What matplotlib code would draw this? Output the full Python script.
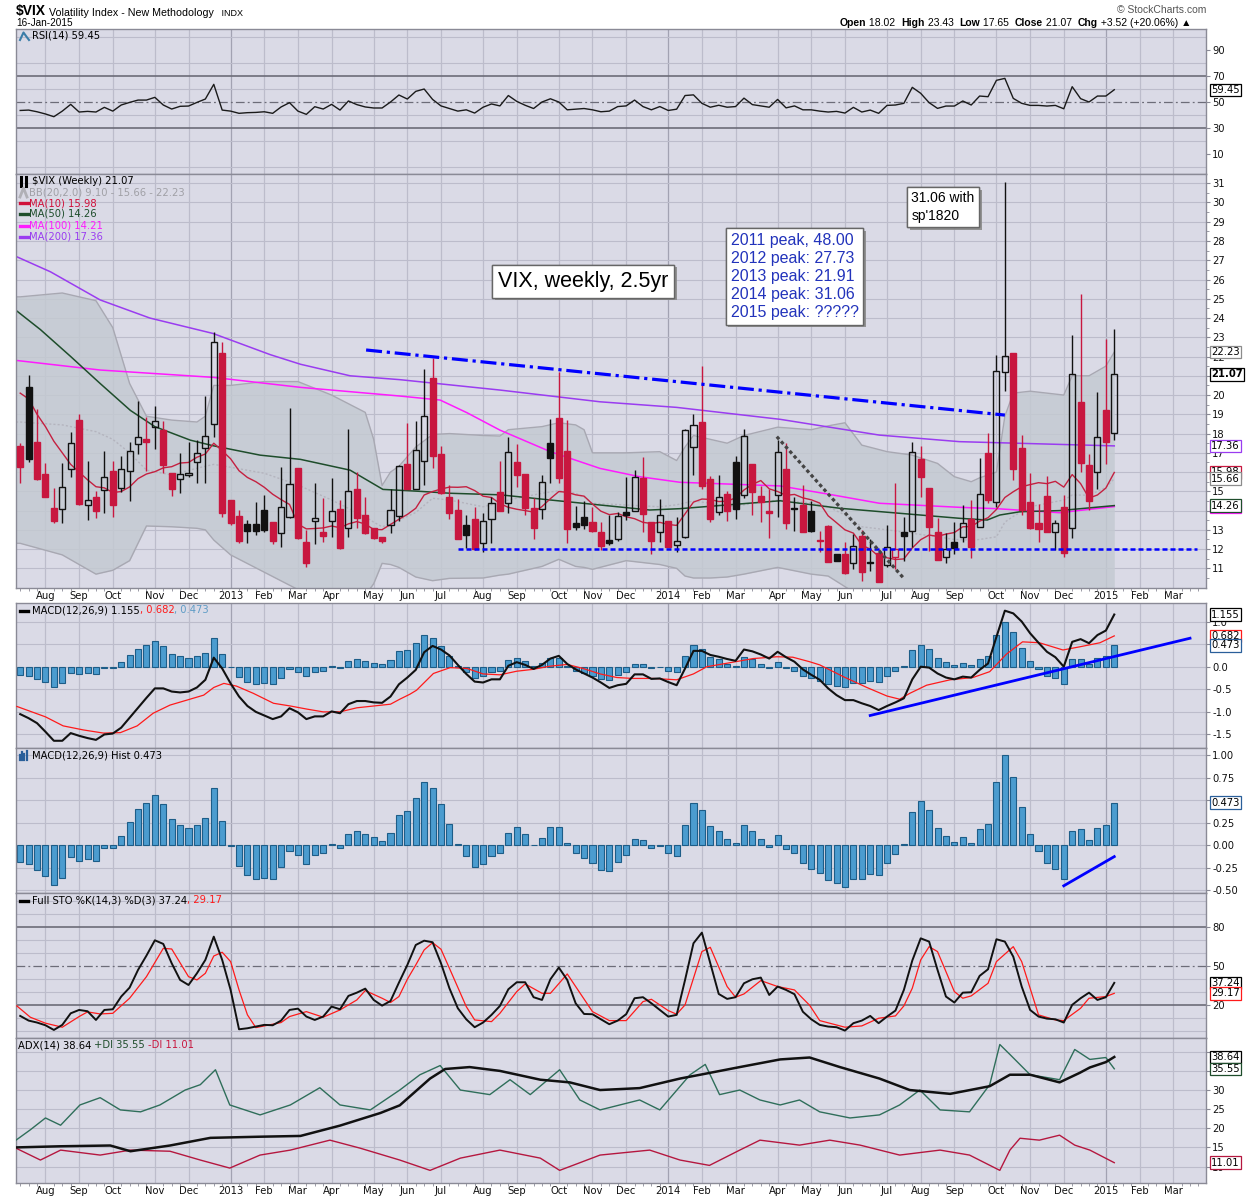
import numpy as np
import matplotlib
matplotlib.use("Agg")
import matplotlib.pyplot as plt
import matplotlib.transforms as mtransforms
import matplotlib.patheffects as pe

plt.rcParams['font.family'] = ['DejaVu Sans']

# ---------------- weekly $VIX candles (week index 0 = 16-Jul-2012, 130 = 12-Jan-2015) ----------------
opens = [17.35, 20.40, 17.54, 15.90, 14.13, 14.10, 16.14, 18.71, 14.27, 14.70,
         15.07, 16.05, 15.19, 16.07, 17.44, 17.70, 18.33, 18.18, 15.94, 15.62,
         15.86, 16.51, 17.23, 18.48, 22.20, 14.55, 13.72, 13.29, 13.29, 14.03,
         13.42, 12.82, 13.68, 16.19, 12.37, 13.47, 12.87, 13.47, 14.08, 13.11,
         15.12, 13.77, 13.08, 12.63, 13.26, 13.72, 16.42, 15.14, 16.56, 20.88,
         16.94, 14.69, 14.03, 13.23, 13.55, 12.30, 13.55, 14.95, 14.38, 16.52,
         15.90, 14.13, 14.06, 17.49, 18.81, 17.10, 13.34, 13.65, 13.41, 12.89,
         12.47, 12.54, 13.92, 13.99, 15.68, 13.39, 12.87, 13.46, 12.19, 12.64,
         17.29, 18.61, 15.62, 13.94, 14.86, 16.52, 14.79, 16.42, 14.77, 13.98,
         14.79, 16.16, 14.12, 14.30, 13.98, 12.47, 13.21, 11.74, 11.74, 11.26,
         12.68, 11.28, 11.81, 11.16, 11.60, 12.89, 12.95, 16.66, 15.17, 12.89,
         11.60, 12.37, 12.64, 13.55, 13.16, 17.00, 14.46, 21.18, 22.16, 17.26,
         14.45, 13.34, 14.77, 12.90, 14.17, 13.08, 19.65, 16.37, 16.02, 19.22,
         18.02]
highs = [17.50, 21.04, 19.25, 16.49, 15.16, 16.45, 18.06, 19.02, 16.56, 15.00,
         17.08, 16.56, 16.83, 17.58, 19.69, 18.85, 19.43, 18.67, 15.94, 17.00,
         17.58, 17.68, 19.95, 23.27, 22.77, 14.55, 14.03, 13.51, 14.45, 14.81,
         13.42, 16.28, 19.34, 16.19, 12.99, 15.45, 14.64, 15.68, 14.55, 18.24,
         16.02, 14.69, 13.08, 12.63, 15.10, 16.38, 18.53, 18.65, 21.35, 21.94,
         17.35, 15.31, 14.58, 13.75, 14.17, 13.89, 14.72, 16.59, 17.84, 17.44,
         15.90, 14.64, 15.83, 18.74, 21.21, 18.71, 14.24, 14.50, 14.20, 13.41,
         13.75, 13.94, 15.76, 16.11, 16.77, 13.39, 14.58, 13.46, 13.65, 18.25,
         19.02, 21.51, 15.80, 15.83, 15.00, 16.83, 18.26, 16.42, 15.28, 15.14,
         17.67, 17.49, 14.69, 15.31, 14.51, 12.95, 13.25, 11.76, 12.37, 12.78,
         12.99, 12.51, 12.02, 13.25, 15.42, 13.65, 17.58, 17.35, 15.19, 13.60,
         12.82, 13.42, 14.27, 14.55, 16.73, 18.05, 22.08, 31.06, 22.20, 17.94,
         15.94, 14.34, 15.80, 13.51, 14.81, 23.12, 25.26, 16.94, 20.17, 22.91,
         23.43]
lows = [15.45, 16.54, 15.60, 14.70, 13.34, 13.38, 15.76, 14.30, 13.51, 13.61,
        13.89, 13.68, 14.98, 14.51, 16.94, 16.07, 17.21, 15.94, 14.76, 14.90,
        15.73, 15.42, 15.45, 17.84, 13.65, 13.23, 12.30, 12.30, 12.71, 12.90,
        12.24, 12.09, 13.60, 12.51, 11.05, 12.26, 12.38, 12.64, 12.00, 12.64,
        13.11, 12.78, 12.51, 12.30, 12.85, 13.46, 15.10, 15.10, 15.33, 16.19,
        14.88, 13.58, 12.52, 12.04, 11.97, 11.86, 12.30, 13.97, 13.89, 15.21,
        13.75, 12.54, 13.58, 15.45, 15.45, 12.33, 12.99, 13.06, 12.90, 11.95,
        12.21, 12.43, 13.51, 13.97, 12.90, 11.74, 12.37, 12.10, 11.85, 12.60,
        15.83, 15.10, 13.41, 13.77, 13.47, 13.55, 14.64, 13.77, 13.42, 12.59,
        13.68, 13.06, 12.92, 12.88, 12.87, 11.85, 11.32, 11.38, 10.72, 10.95,
        10.36, 10.88, 10.28, 11.05, 10.95, 11.40, 12.12, 14.72, 11.91, 11.41,
        11.26, 11.74, 12.37, 11.52, 13.14, 14.41, 14.20, 20.23, 15.59, 13.77,
        13.06, 12.38, 12.88, 11.95, 11.57, 12.56, 16.02, 14.03, 15.10, 16.42,
        17.65]
closes = [16.28, 16.69, 15.65, 14.72, 13.47, 15.21, 17.49, 14.34, 14.53, 13.99,
          15.73, 14.30, 16.14, 17.08, 17.82, 17.58, 18.64, 16.38, 15.14, 15.90,
          15.97, 17.00, 17.87, 22.74, 13.86, 13.37, 12.43, 12.92, 12.93, 12.99,
          12.43, 14.17, 15.38, 12.56, 11.29, 13.60, 12.68, 13.98, 12.04, 15.00,
          13.63, 12.85, 12.59, 12.43, 14.01, 16.31, 15.14, 17.17, 18.92, 16.85,
          14.90, 13.86, 12.54, 12.71, 11.99, 13.44, 14.38, 13.99, 17.03, 15.86,
          14.15, 13.09, 15.47, 16.75, 15.71, 13.06, 13.13, 13.26, 12.92, 12.17,
          12.30, 13.72, 13.78, 15.76, 13.81, 12.43, 13.75, 12.12, 12.43, 18.19,
          18.43, 15.29, 13.58, 14.69, 13.99, 14.10, 17.88, 14.98, 14.44, 13.87,
          17.03, 13.37, 14.06, 12.90, 12.92, 12.40, 11.34, 11.40, 10.74, 12.17,
          10.83, 11.26, 10.30, 12.09, 12.03, 12.70, 17.03, 15.76, 13.16, 11.43,
          12.02, 12.07, 13.34, 12.12, 14.86, 14.55, 21.24, 22.04, 16.14, 14.03,
          13.08, 13.05, 12.90, 13.34, 11.81, 21.11, 16.49, 14.51, 17.81, 17.55,
          21.07]
prev_close0 = 17.50

ma10 = [20.10, 19.80, 19.00, 18.36, 17.60, 17.00, 16.40, 16.00, 15.60, 15.24,
        15.18, 14.94, 14.99, 15.23, 15.66, 15.90, 16.02, 16.22, 16.28, 16.47,
        16.50, 16.77, 16.94, 17.50, 17.11, 16.69, 16.07, 15.72, 15.50, 15.21,
        14.85, 14.57, 14.32, 13.30, 13.05, 13.07, 13.10, 13.20, 13.11, 13.31,
        13.43, 13.30, 13.02, 13.01, 13.28, 13.55, 13.80, 14.12, 14.81, 14.99,
        15.12, 15.22, 15.21, 15.24, 15.04, 14.75, 14.68, 14.36, 14.17, 14.07,
        14.00, 13.92, 14.21, 14.62, 14.99, 14.95, 14.82, 14.75, 14.34, 13.97,
        13.79, 13.85, 13.68, 13.58, 13.39, 13.33, 13.39, 13.28, 13.23, 13.83,
        14.44, 14.60, 14.58, 14.47, 14.49, 14.66, 15.07, 15.36, 15.56, 15.13,
        14.99, 14.79, 14.84, 14.66, 14.56, 14.39, 13.73, 13.37, 13.00, 12.83,
        12.21, 12.00, 11.63, 11.55, 11.46, 11.49, 12.06, 12.49, 12.73, 12.66,
        12.78, 12.86, 13.16, 13.17, 13.45, 13.63, 14.06, 14.68, 14.98, 15.24,
        15.35, 15.45, 15.40, 15.52, 15.22, 15.87, 15.40, 14.65, 14.81, 15.17,
        15.98]

ma50_idx = [-0.5, 2.4, 6.0, 9.5, 13.1, 16.0, 20.2, 22.9, 28.5, 33.3, 39.2, 43.1, 47.5, 51.1, 57.0,
            63.0, 68.9, 74.8, 78.4, 90.3, 97.4, 104.5, 111.6, 114.9, 116.4, 118.8, 123.5, 130]
ma50_val = [24.4, 23.4, 22.0, 20.6, 19.2, 18.36, 17.66, 17.37, 16.88, 16.66, 16.1, 15.1, 15.0, 14.9, 14.82,
            14.55, 14.29, 14.03, 14.1, 14.51, 14.12, 13.86, 13.6, 13.51, 13.77, 13.94, 14.0, 14.26]
ma100_idx = [-0.5, 9.5, 22.9, 33.3, 45.1, 49.9, 53.1, 57.0, 63.0, 68.9, 73.6, 78.4, 90.3, 96.2, 102.1,
             111.6, 116.0, 123.5, 130]
ma100_val = [21.8, 21.3, 20.92, 20.4, 19.95, 19.74, 19.08, 18.18, 17.06, 16.19, 15.76, 15.47, 15.28, 14.84,
             14.38, 14.17, 14.1, 13.89, 14.21]
ma200_idx = [-0.5, 3.6, 9.5, 15.4, 22.9, 29.7, 33.3, 39.2, 45.1, 57.0, 68.9, 78.0, 90.3, 102.1, 111.6, 130]
ma200_val = [27.2, 26.4, 24.94, 24.0, 23.2, 22.1, 21.6, 21.0, 20.8, 20.26, 19.65, 19.36, 18.74, 17.92, 17.58,
             17.36]

bb_idx = [-0.5, 0, 5, 9, 11, 13, 15, 18, 21, 22, 23, 25, 29, 33, 37, 41, 42, 43, 44, 45,
          47, 49, 51, 55, 57, 58, 62, 64, 66, 67, 68, 72, 76, 78, 79, 80, 82, 84, 86, 90,
          94, 96, 98, 100, 103, 106, 109, 111, 113, 114, 116, 117, 118, 120, 124, 125, 127, 129, 130]
bb_up = [25.1, 25.1, 25.3, 24.9, 23.5, 20.6, 18.9, 18.7, 18.6, 18.9, 20.5, 20.5, 20.7, 20.7, 20.0, 19.1,
         17.7, 15.3, 16.0, 16.3, 17.3, 17.95, 18.0, 17.9, 17.87, 18.2, 18.36, 18.56, 18.45, 18.2,
         17.0, 17.0, 17.06, 16.6, 17.3, 17.9, 17.7, 17.5, 17.9, 18.33, 18.2, 18.4, 18.56, 17.4,
         17.06, 16.88, 16.45, 15.76, 15.5, 15.7, 16.0, 18.9, 20.1, 20.2, 20.0, 21.0, 21.0, 21.5, 22.23]
bb_mid = [18.6, 18.6, 18.45, 18.1, 17.7, 17.0, 16.1, 15.85, 16.2, 16.3, 16.4, 16.25, 15.94, 15.33, 14.55,
          13.68, 13.4, 13.16, 13.3, 13.5, 13.9, 14.64, 14.55, 14.2, 14.4, 14.55, 14.9, 15.03, 14.9, 14.7,
          14.38, 14.29, 14.2, 14.3, 14.4, 14.5, 14.38, 14.2, 14.3, 14.55, 14.4, 14.2, 13.77, 13.16,
          13.0, 12.82, 12.64, 12.5, 12.47, 12.5, 12.64, 13.4, 13.7, 14.2, 14.55, 14.81, 14.8, 15.2, 15.66]
bb_lo = [12.3, 12.3, 11.7, 10.7, 10.9, 11.4, 13.2, 13.16, 13.08, 13.0, 12.47, 11.7, 10.8, 9.9, 9.5, 9.6,
         10.2, 11.26, 11.2, 11.05, 10.55, 10.36, 10.48, 10.5, 10.65, 10.7, 11.1, 11.47, 11.1, 11.05,
         10.95, 11.4, 11.2, 11.0, 10.6, 10.5, 10.5, 10.55, 10.7, 11.05, 10.7, 10.6, 10.05, 9.5,
         9.0, 8.8, 8.8, 9.3, 9.5, 9.3, 9.2, 8.1, 7.7, 8.2, 9.2, 8.6, 8.6, 9.1, 9.10]

# ---------------- indicators ----------------
rsi = [43.5, 43.8, 42.5, 40.8, 38.7, 43.0, 48.2, 42.3, 42.8, 42.3,
       45.9, 43.0, 47.7, 49.7, 51.5, 51.5, 53.6, 47.7, 44.6, 46.7,
       46.9, 49.7, 52.3, 63.6, 43.8, 43.0, 41.3, 41.8, 42.0, 42.5,
       41.3, 46.2, 49.5, 43.0, 40.5, 46.4, 44.6, 48.2, 43.8, 50.8,
       48.0, 46.2, 45.4, 45.4, 50.0, 55.4, 52.3, 58.2, 60.0, 52.0,
       47.0, 45.0, 43.0, 44.0, 41.5, 46.0, 48.5, 47.0, 55.0, 50.5,
       47.5, 45.0, 50.0, 52.5, 50.0, 44.0, 44.5, 45.0, 44.0, 42.5,
       43.0, 46.5, 47.0, 51.5, 46.5, 44.0, 46.5, 43.5, 44.5, 55.0,
       55.5, 49.0, 46.0, 47.5, 46.0, 46.5, 53.0, 48.0, 47.0, 46.0,
       52.0, 45.5, 47.0, 44.0, 44.0, 43.0, 42.3, 42.8, 41.5, 45.9,
       42.3, 43.8, 41.3, 47.4, 47.7, 49.0, 61.3, 56.7, 49.5, 45.1,
       46.9, 46.9, 50.8, 47.7, 54.6, 54.1, 66.7, 68.2, 52.8, 49.0,
       47.4, 47.4, 46.9, 47.4, 44.8, 61.8, 52.6, 50.0, 54.6, 54.6,
       59.45]

macd = [-1.05, -1.14, -1.25, -1.44, -1.64, -1.64, -1.47, -1.53, -1.58, -1.62,
        -1.50, -1.48, -1.35, -1.13, -0.91, -0.69, -0.48, -0.48, -0.55, -0.57,
        -0.55, -0.46, -0.29, 0.20, -0.04, -0.37, -0.66, -0.87, -1.00, -1.08,
        -1.16, -1.10, -0.92, -1.01, -1.16, -1.10, -1.10, -0.99, -1.03, -0.83,
        -0.76, -0.76, -0.79, -0.80, -0.66, -0.39, -0.24, -0.07, 0.32, 0.46,
        0.38, 0.25, 0.04, -0.16, -0.33, -0.35, -0.28, -0.28, 0.02, 0.10,
        0.04, -0.05, 0.04, 0.18, 0.24, 0.06, -0.06, -0.15, -0.24, -0.35,
        -0.47, -0.41, -0.38, -0.17, -0.17, -0.27, -0.26, -0.34, -0.41, -0.04,
        0.35, 0.35, 0.26, 0.22, 0.17, 0.13, 0.38, 0.34, 0.27, 0.18,
        0.33, 0.21, 0.11, -0.06, -0.18, -0.29, -0.48, -0.63, -0.74, -0.74,
        -0.81, -0.87, -0.96, -0.87, -0.79, -0.70, -0.28, 0.00, -0.02, -0.15,
        -0.24, -0.28, -0.22, -0.24, -0.07, 0.07, 0.66, 1.24, 1.18, 1.00,
        0.74, 0.53, 0.33, 0.21, 0.00, 0.55, 0.61, 0.52, 0.70, 0.80,
        1.155]
sig_idx = [-0.4, 3.0, 5.1, 7.5, 9.9, 11.9, 13.9, 15.8, 17.8, 19.8, 21.8, 23.0, 24.2, 25.7, 27.7, 30.1,
           32.1, 34.1, 36.0, 38.0, 40.0, 42.0, 44.0, 45.1, 46.3, 47.1, 49.1, 51.1, 53.1, 55.0, 57.0,
           59.0, 60.9, 62.9, 65.0, 66.9, 68.9, 70.9, 72.8, 75.2, 78.0, 80.0, 81.6, 84.7, 87.1, 89.9,
           91.8, 93.8, 95.0, 97.8, 100.6, 103.0, 104.5, 105.7, 107.7, 110.5, 113.2, 115.2, 117.2,
           119.1, 121.1, 123.9, 125.9, 128.3, 130]
sig_val = [-0.88, -1.11, -1.31, -1.40, -1.47, -1.46, -1.31, -1.03, -0.85, -0.74, -0.63, -0.46, -0.37,
           -0.43, -0.59, -0.81, -0.87, -0.94, -1.00, -1.00, -0.91, -0.87, -0.83, -0.72, -0.61, -0.52,
           -0.15, -0.02, -0.04, -0.16, -0.18, -0.10, -0.06, 0.01, 0.05, -0.04, -0.16, -0.24, -0.26,
           -0.26, -0.29, -0.16, 0.00, 0.10, 0.18, 0.22, 0.21, 0.11, 0.04, -0.22, -0.46, -0.65, -0.72,
           -0.59, -0.41, -0.29, -0.24, -0.11, 0.28, 0.55, 0.53, 0.37, 0.44, 0.53, 0.682]
hist = [-0.19, -0.21, -0.27, -0.34, -0.44, -0.36, -0.13, -0.17, -0.15, -0.17,
        -0.03, -0.03, 0.10, 0.26, 0.40, 0.47, 0.56, 0.46, 0.29, 0.23,
        0.19, 0.23, 0.30, 0.64, 0.27, -0.01, -0.23, -0.33, -0.38, -0.36,
        -0.38, -0.24, -0.06, -0.11, -0.21, -0.11, -0.09, 0.01, -0.03, 0.13,
        0.16, 0.12, 0.09, 0.05, 0.14, 0.34, 0.38, 0.52, 0.70, 0.64,
        0.46, 0.24, 0.01, -0.12, -0.24, -0.21, -0.12, -0.09, 0.14, 0.20,
        0.12, 0.005, 0.08, 0.20, 0.20, 0.02, -0.09, -0.14, -0.20, -0.27,
        -0.29, -0.19, -0.11, 0.07, 0.06, -0.03, -0.01, -0.09, -0.12, 0.23,
        0.47, 0.39, 0.21, 0.16, 0.07, 0.02, 0.22, 0.16, 0.07, -0.02,
        0.11, -0.04, -0.09, -0.20, -0.26, -0.31, -0.39, -0.42, -0.46, -0.37,
        -0.37, -0.32, -0.33, -0.20, -0.10, 0.01, 0.37, 0.49, 0.39, 0.19,
        0.10, 0.04, 0.09, 0.03, 0.18, 0.24, 0.70, 1.00, 0.76, 0.42,
        0.13, -0.06, -0.20, -0.26, -0.38, 0.16, 0.18, 0.06, 0.19, 0.23,
        0.473]

sto_k = [11.8, 8.2, 6.7, 4.6, 1.0, 4.9, 13.8, 16.4, 15.4, 8.7,
         16.4, 16.9, 26.7, 33.6, 47.2, 58.2, 70.0, 67.2, 52.3, 39.5,
         35.6, 44.6, 54.9, 72.8, 54.9, 31.8, 1.5, 2.3, 3.6, 4.9,
         4.6, 8.2, 16.4, 17.4, 11.3, 8.7, 11.3, 19.0, 16.9, 27.2,
         29.7, 32.8, 24.1, 19.7, 23.3, 37.4, 51.0, 66.4, 69.7, 68.5,
         52.3, 33.1, 17.7, 9.2, 3.1, 6.7, 12.6, 19.5, 32.3, 37.7,
         37.7, 26.2, 24.1, 40.0, 49.0, 39.5, 21.5, 13.3, 13.1, 9.2,
         5.4, 8.2, 13.1, 25.4, 26.2, 21.5, 16.4, 11.3, 12.6, 39.5,
         67.7, 75.9, 52.3, 28.7, 24.9, 26.2, 36.9, 40.0, 41.3, 27.9,
         34.4, 31.8, 28.5, 15.0, 9.2, 4.9, 3.6, 3.1, 0.5, 6.2,
         8.2, 11.8, 6.2, 11.3, 15.9, 31.8, 54.4, 71.5, 69.0, 47.2,
         26.7, 22.1, 29.7, 30.0, 42.6, 47.7, 70.8, 69.0, 57.4, 34.4,
         16.4, 11.3, 9.7, 9.2, 6.7, 20.3, 25.4, 29.7, 24.1, 26.2,
         37.24]
sto_d_idx = [-0.4, 1.2, 3, 5, 7, 8, 9.5, 11, 13, 15, 17, 18, 20, 21, 22, 23, 24, 25, 26, 27, 28, 30,
             31, 32, 34, 36, 38, 40, 41, 43, 44, 45, 46, 47, 48, 49, 50, 51, 53, 54, 56, 57, 59, 60,
             62, 63, 65, 66, 68, 70, 72, 74, 75, 77, 78, 79, 81, 82, 84, 85, 86, 88, 90, 92, 93.8,
             95, 98, 100, 102, 104, 105, 106, 107, 108, 109, 111, 112, 113, 115, 116, 118, 119, 121,
             123, 124, 126, 127, 129, 130]
sto_d_val = [19.5, 10.8, 6.2, 3.1, 11.3, 14.9, 13.3, 13.8, 25.4, 42.0, 63.8, 63.3, 42.0, 39.5, 44.6,
             57.9, 60.8, 53.6, 31.8, 12.6, 2.8, 5.4, 6.7, 11.3, 15.1, 10.8, 16.4, 24.1, 31.3, 25.4,
             22.1, 26.7, 40.0, 51.0, 62.6, 68.2, 63.1, 48.5, 19.0, 8.7, 7.4, 13.8, 30.5, 36.4, 29.2,
             29.2, 44.1, 34.4, 15.1, 8.2, 8.2, 22.8, 24.6, 15.9, 13.1, 20.3, 61.3, 64.6, 34.4, 26.2,
             28.7, 39.0, 34.4, 31.8, 20.0, 8.2, 3.1, 4.1, 10.0, 11.8, 19.5, 33.1, 54.9, 65.1, 61.3,
             30.5, 25.4, 27.2, 36.9, 53.6, 65.1, 53.6, 12.6, 8.7, 8.2, 17.7, 25.4, 26.7, 29.17]

adx_idx = [-0.5, 4.8, 10.7, 13.1, 17.8, 22.6, 28.5, 33.3, 38.0, 42.8, 45.1, 48.7, 50.5, 53.4, 57.0,
           61.8, 65.3, 68.9, 73.6, 78.4, 80.8, 85.5, 90.3, 93.8, 97.4, 102.1, 105.7, 110.5, 115.2,
           117.6, 120.0, 123.5, 125.9, 127.1, 129.0, 130]
adx_val = [15.0, 15.3, 15.5, 14.0, 15.5, 17.5, 17.8, 18.0, 20.7, 24.0, 26.0, 33.0, 35.5, 36.0, 35.0,
           32.7, 32.0, 30.0, 30.5, 33.0, 34.0, 36.0, 38.0, 38.5, 36.0, 33.0, 30.0, 29.0, 31.0,
           34.0, 34.0, 32.0, 34.5, 35.9, 37.3, 38.64]
pdi_idx = [-0.5, 1.2, 3.0, 4.8, 7.1, 9.5, 11.9, 14.3, 16.6, 19.6, 21.4, 23.2, 24.9, 28.5, 32.1, 35.6,
           38.0, 41.6, 45.1, 47.5, 49.9, 52.3, 55.8, 58.2, 60.6, 64.1, 66.5, 68.9, 73.6, 76.0, 79.6,
           81.4, 83.1, 85.5, 87.9, 90.3, 92.6, 95.0, 98.6, 102.1, 104.5, 106.9, 109.3, 112.8, 115.2,
           116.4, 117.6, 120.0, 123.5, 125.3, 127.1, 129.0, 130]
pdi_val = [16.9, 19.6, 22.7, 20.8, 26.1, 28.0, 24.8, 24.3, 26.1, 30.0, 31.4, 35.3, 26.1, 23.5, 26.1,
           30.6, 26.1, 24.8, 30.0, 34.0, 36.4, 30.0, 28.8, 32.7, 28.8, 35.3, 27.4, 24.8, 27.4, 24.8,
           34.0, 36.7, 28.8, 30.0, 27.4, 26.1, 27.4, 24.3, 22.7, 23.5, 26.1, 30.0, 24.8, 24.3, 31.4,
           41.9, 39.3, 34.0, 32.7, 40.6, 38.0, 38.5, 35.55]
mdi_idx = [-0.5, 2.4, 4.8, 9.5, 13.1, 17.8, 21.4, 24.9, 28.5, 32.1, 36.8, 40.4, 45.1, 48.7, 52.3,
           57.0, 61.8, 64.1, 68.9, 74.8, 78.4, 81.9, 85.5, 87.9, 92.6, 96.2, 99.8, 104.5, 109.3,
           112.8, 116.4, 117.6, 118.8, 121.1, 123.5, 125.3, 127.1, 130]
mdi_val = [14.8, 11.7, 14.3, 13.0, 14.3, 14.0, 11.7, 9.6, 13.0, 14.3, 16.9, 14.8, 11.7, 9.0, 12.2,
           14.3, 12.2, 9.0, 13.0, 14.3, 11.7, 10.3, 14.3, 16.9, 15.6, 16.9, 15.6, 13.0, 14.3, 13.0,
           9.0, 14.3, 17.4, 16.9, 18.2, 15.6, 14.3, 11.01]

# hand drawn trend lines (week index, value)
resist_line = ([41.1, 117.0], [22.34, 18.96])
support_line = ([52.0, 139.8], [12.0, 12.0])
fall_line = ([89.9, 105.1], [17.84, 10.43])
macd_trend = ([101.0, 139.0], [-1.08, 0.63])
hist_trend = ([124.0, 130.0], [-0.45, -0.126])

month_idx = [3, 7, 11, 16, 20, 25, 29, 33, 37, 42, 46, 50, 55, 59, 64, 68, 72, 77, 81, 85, 90, 94,
             98, 103, 107, 111, 116, 120, 124, 129, 133, 137]
month_lbl = ['Aug', 'Sep', 'Oct', 'Nov', 'Dec', '2013', 'Feb', 'Mar', 'Apr', 'May', 'Jun', 'Jul',
             'Aug', 'Sep', 'Oct', 'Nov', 'Dec', '2014', 'Feb', 'Mar', 'Apr', 'May', 'Jun', 'Jul',
             'Aug', 'Sep', 'Oct', 'Nov', 'Dec', '2015', 'Feb', 'Mar']

# ---------------- style ----------------
BG = '#dadae6'
GRID = '#bcbccb'
YEARGRID = '#a2a2b2'
SPINE = '#8a8a96'
RED = '#c8173f'
INK = '#111111'
XMIN, XMAX = -0.5, 140.9

W, H = 1250, 1200
fig = plt.figure(figsize=(12.5, 12), dpi=100)
fig.patch.set_facecolor('white')


def panel(top, bottom):
    return fig.add_axes([16 / W, 1 - bottom / H, 1190 / W, (bottom - top) / H])


def style(ax, ylim):
    ax.set_facecolor(BG)
    ax.set_xlim(XMIN, XMAX)
    ax.set_ylim(*ylim)
    for s in ax.spines.values():
        s.set_color(SPINE)
        s.set_linewidth(1.0)
    ax.yaxis.tick_right()
    ax.tick_params(axis='y', which='major', direction='out', length=3, width=0.8, color=SPINE,
                   labelsize=7.2, pad=1.5, labelcolor='#111111')
    ax.tick_params(axis='y', which='minor', direction='out', length=2, width=0.6, color=SPINE)
    ax.tick_params(axis='x', which='both', bottom=False, labelbottom=False)
    for m, lbl in zip(month_idx, month_lbl):
        ax.axvline(m, color=YEARGRID if lbl.isdigit() else GRID, lw=0.9, zorder=0.5)
    ax.set_axisbelow(True)


def ticks(ax, values, labels):
    # labels hidden behind the value tags are left blank
    ax.set_yticks(values)
    ax.set_yticklabels(labels)


def tag(ax, y, s, ec, bold=False):
    tr = mtransforms.blended_transform_factory(ax.transAxes, ax.transData)
    ax.text(1.0045, y, s, transform=tr, ha='left', va='center', fontsize=7.2,
            fontweight='bold' if bold else 'normal', color='black', clip_on=False, zorder=30,
            bbox=dict(boxstyle='square,pad=0.12', fc='white', ec=ec, lw=0.9))


def month_axis(ax):
    ax.set_xticks(month_idx)
    ax.set_xticklabels(month_lbl)
    for t, s in zip(ax.get_xticklabels(), month_lbl):
        t.set_fontweight('bold' if s.isdigit() else 'normal')
    ax.set_xticks(np.arange(0, 141), minor=True)
    ax.tick_params(axis='x', which='major', bottom=True, labelbottom=True, length=0, pad=2.5,
                   labelsize=7.2, labelcolor='#111111')
    ax.tick_params(axis='x', which='minor', bottom=True, length=2.5, width=0.6, color=SPINE,
                   direction='out')


weeks = np.arange(len(closes))

# ---------------- RSI ----------------
ax_rsi = panel(29, 174)
style(ax_rsi, (-5.4, 106.2))
ax_rsi.set_yticks([10, 30, 50, 70, 90])
ax_rsi.set_yticks(np.arange(0, 101, 10), minor=True)
ax_rsi.tick_params(axis='y', which='minor', length=0)
ax_rsi.grid(axis='y', which='minor', color=GRID, lw=0.8)
ax_rsi.axhline(70, color='#6c6c78', lw=1.2, zorder=1)
ax_rsi.axhline(30, color='#6c6c78', lw=1.2, zorder=1)
ax_rsi.axhline(50, color='#6c6c78', lw=0.9, ls=(0, (7, 2.5, 1.5, 2.5)), zorder=1)
ax_rsi.plot(weeks, rsi, color='#1a1a1a', lw=1.0, zorder=3)
tag(ax_rsi, 59.45, '59.45', 'black')

# ---------------- price ----------------
ax_px = panel(174, 588)
style(ax_px, (9.98, 31.48))
px_ticks = list(range(11, 32))
ticks(ax_px, px_ticks, ['' if v in (14, 16, 21) else str(v) for v in px_ticks])
ax_px.set_yticks(np.arange(10.5, 31.5, 1), minor=True)
ax_px.grid(axis='y', which='major', color=GRID, lw=0.8)

ax_px.fill_between(bb_idx, bb_lo, bb_up, color='#c4cad2', alpha=0.85, lw=0, zorder=1)
ax_px.plot(bb_idx, bb_up, color='#a8a8b2', lw=1.0, zorder=1.5)
ax_px.plot(bb_idx, bb_lo, color='#a8a8b2', lw=1.0, zorder=1.5)
ax_px.plot(bb_idx, bb_mid, color='#b4b4be', lw=1.0, ls=(0, (1.5, 1.5)), zorder=1.5)
ax_px.plot(ma200_idx, ma200_val, color='#9a3cf0', lw=1.1, zorder=2)
ax_px.plot(ma100_idx, ma100_val, color='#ff1aff', lw=1.1, zorder=2)
ax_px.plot(ma50_idx, ma50_val, color='#1e4d2b', lw=1.1, zorder=2)
ax_px.plot(weeks, ma10, color='#c42040', lw=1.0, zorder=2)

prev = [prev_close0] + closes[:-1]
col = [INK if c >= p else RED for c, p in zip(closes, prev)]
face = ['none' if c >= o else k for o, c, k in zip(opens, closes, col)]
body_lo = [min(o, c) for o, c in zip(opens, closes)]
body_hi = [max(o, c) for o, c in zip(opens, closes)]
body_h = [max(b - a, 0.05) for a, b in zip(body_lo, body_hi)]
ax_px.vlines(weeks, body_hi, highs, colors=col, lw=1.0, zorder=4)
ax_px.vlines(weeks, lows, body_lo, colors=col, lw=1.0, zorder=4)
ax_px.bar(weeks, body_h, bottom=body_lo, width=0.72, color=face, edgecolor=col, linewidth=1.0,
          zorder=5)

ax_px.plot(*resist_line, color='#0000ff', lw=2.3, ls=(0, (5, 1.5, 1, 1.5)), zorder=6)
ax_px.plot(*support_line, color='#0000ff', lw=1.8, ls=(0, (2, 1.2)), zorder=6)
ax_px.plot(*fall_line, color='#444444', lw=2.3, ls=(0, (1.1, 0.9)), zorder=6)

shadow = [pe.withSimplePatchShadow(offset=(2, -2), shadow_rgbFace='#8a8a8a', alpha=0.9)]
t1 = ax_px.text(66.9, 25.92, 'VIX, weekly, 2.5yr', ha='center', va='center', fontsize=15.5,
                family=['Liberation Sans', 'DejaVu Sans'], color='black', zorder=8,
                bbox=dict(boxstyle='square,pad=0.28', fc='white', ec='#666666', lw=1))
t2 = ax_px.text(84.4, 28.42,
                '2011 peak, 48.00\n2012 peak: 27.73\n2013 peak: 21.91\n2014 peak: 31.06\n2015 peak: ?????',
                ha='left', va='top', fontsize=11.5, linespacing=1.25,
                family=['Liberation Sans', 'DejaVu Sans'], color='#2233bb', zorder=8,
                bbox=dict(boxstyle='square,pad=0.3', fc='white', ec='#666666', lw=1))
t3 = ax_px.text(105.9, 30.6, "31.06 with\nsp'1820", ha='left', va='top', fontsize=10,
                linespacing=1.35, family=['Liberation Sans', 'DejaVu Sans'], color='black', zorder=8,
                bbox=dict(boxstyle='square,pad=0.3', fc='white', ec='#666666', lw=1))
for t in (t1, t2, t3):
    t.get_bbox_patch().set_path_effects(shadow + [pe.Normal()])

tag(ax_px, 22.23, '22.23', '#8c8c8c')
tag(ax_px, 21.07, '21.07', 'black', bold=True)
tag(ax_px, 17.36, '17.36', '#9a3cf0')
tag(ax_px, 15.98, '15.98', RED)
tag(ax_px, 15.66, '15.66', '#8c8c8c')
tag(ax_px, 14.21, '14.21', '#ff1aff')
tag(ax_px, 14.26, '14.26', '#1e4d2b')
month_axis(ax_px)

# ---------------- MACD ----------------
ax_macd = panel(603, 748)
style(ax_macd, (-1.80, 1.41))
ticks(ax_macd, [-1.5, -1.0, -0.5, 0.0, 0.5, 1.0], ['-1.5', '-1.0', '-0.5', '0.0', '', '1.0'])
ax_macd.grid(axis='y', which='major', color=GRID, lw=0.8)
ax_macd.bar(weeks, hist, width=0.72, color='#4b9ccf', edgecolor='#1d5d88', lw=0.8, zorder=2)
ax_macd.plot(sig_idx, sig_val, color='#ff1a1a', lw=0.9, zorder=3)
ax_macd.plot(weeks, macd, color='#111111', lw=1.5, zorder=4)
ax_macd.plot(*macd_trend, color='#0000ff', lw=2.0, zorder=5)
tag(ax_macd, 1.155, '1.155', 'black')
tag(ax_macd, 0.682, '0.682', '#ff1a1a')
tag(ax_macd, 0.473, '0.473', '#2a5f9a')

# ---------------- MACD histogram ----------------
ax_hist = panel(748, 893)
style(ax_hist, (-0.53, 1.08))
ticks(ax_hist, [-0.5, -0.25, 0.0, 0.25, 0.5, 0.75, 1.0],
      ['-0.50', '-0.25', '0.00', '0.25', '', '0.75', '1.00'])
ax_hist.grid(axis='y', which='major', color=GRID, lw=0.8)
ax_hist.bar(weeks, hist, width=0.72, color='#4b9ccf', edgecolor='#1d5d88', lw=0.8, zorder=2)
ax_hist.plot(*hist_trend, color='#0000ff', lw=2.0, zorder=5)
tag(ax_hist, 0.473, '0.473', '#2a5f9a')

# ---------------- Full stochastics ----------------
ax_sto = panel(893, 1038)
style(ax_sto, (-5.2, 106.4))
ax_sto.set_yticks([20, 50, 80])
ax_sto.set_yticks(np.arange(0, 101, 10), minor=True)
ax_sto.tick_params(axis='y', which='minor', length=0)
ax_sto.grid(axis='y', which='minor', color=GRID, lw=0.8)
ax_sto.axhline(80, color='#6c6c78', lw=1.2, zorder=1)
ax_sto.axhline(20, color='#6c6c78', lw=1.2, zorder=1)
ax_sto.axhline(50, color='#6c6c78', lw=0.9, ls=(0, (7, 2.5, 1.5, 2.5)), zorder=1)
ax_sto.plot(sto_d_idx, sto_d_val, color='#ff1a1a', lw=0.9, zorder=3)
ax_sto.plot(weeks, sto_k, color='#111111', lw=1.4, zorder=4)
tag(ax_sto, 37.24, '37.24', 'black')
tag(ax_sto, 29.17, '29.17', '#ff1a1a')

# ---------------- ADX ----------------
ax_adx = panel(1038, 1183)
style(ax_adx, (5.7, 43.6))
ticks(ax_adx, [10, 15, 20, 25, 30, 35, 40], ['10', '15', '20', '25', '30', '', ''])
ax_adx.grid(axis='y', which='major', color=GRID, lw=0.8)
ax_adx.plot(mdi_idx, mdi_val, color='#b5173f', lw=1.0, zorder=3)
ax_adx.plot(pdi_idx, pdi_val, color='#2f6e5a', lw=1.0, zorder=3)
ax_adx.plot(adx_idx, adx_val, color='#111111', lw=1.8, zorder=4)
tag(ax_adx, 38.64, '38.64', 'black')
tag(ax_adx, 35.55, '35.55', '#1e4d2b')
tag(ax_adx, 11.01, '11.01', '#b5173f')
month_axis(ax_adx)

# ---------------- overlay texts (pixel coordinates) ----------------
ov = fig.add_axes([0, 0, 1, 1], zorder=50)
ov.set_xlim(0, W)
ov.set_ylim(H, 0)
ov.axis('off')


def chain(x, y, parts, size=7.2, family=('DejaVu Sans',)):
    s, c, w, *rest = parts[0]
    t = ov.text(x, y, s, color=c, fontsize=rest[0] if rest else size, fontweight=w, va='center',
                ha='left', family=list(family))
    for s, c, w, *rest in parts[1:]:
        t = ov.annotate(s, xy=(1, 0), xycoords=t, xytext=(0, 0), textcoords='offset points',
                        color=c, fontsize=rest[0] if rest else size, fontweight=w, va='bottom',
                        ha='left', family=list(family))
    return t


ARIAL = ('Liberation Sans', 'DejaVu Sans')
chain(16, 11, [('$VIX', 'black', 'bold', 10), (' Volatility Index - New Methodology', 'black', 'normal', 7.7),
               ('   INDX', 'black', 'normal', 6.5)], family=ARIAL)
ov.text(16, 23, '16-Jan-2015', fontsize=7.2, va='center', ha='left', family=list(ARIAL))
ov.text(1206, 10, '\u00a9 StockCharts.com', fontsize=7.5, va='center', ha='right', color='#555555',
        family=list(ARIAL))
chain(840, 23, [('Open', 'black', 'bold'), (' 18.02  ', 'black', 'normal'),
                ('High', 'black', 'bold'), (' 23.43  ', 'black', 'normal'),
                ('Low', 'black', 'bold'), (' 17.65  ', 'black', 'normal'),
                ('Close', 'black', 'bold'), (' 21.07  ', 'black', 'normal'),
                ('Chg', 'black', 'bold'), (' +3.52 (+20.06%) \u25b2', 'black', 'normal')],
      size=7.5, family=ARIAL)

ov.text(32, 36, 'RSI(14) 59.45', fontsize=7.2, va='center', ha='left')
ov.plot([20, 23.5, 26, 29], [40, 32.5, 36, 40], color='#3a7da8', lw=1.5)

ov.text(32, 181.5, '$VIX (Weekly) 21.07', fontsize=7.2, va='center', ha='left')
ov.plot([21, 21], [177, 186], color='black', lw=2.2)
ov.plot([26, 26], [177, 186], color='black', lw=2.2)
ov.text(29, 192.3, 'BB(20,2.0) 9.10 - 15.66 - 22.23', fontsize=7.2, va='center', ha='left',
        color='#a0a0a6')
ov.plot([20, 23.5, 27], [197, 188, 197], color='#b0b0b6', lw=2)
legend_ma = [(203, 'MA(10) 15.98', '#d0103a'), (214, 'MA(50) 14.26', '#1e4d2b'),
             (225.5, 'MA(100) 14.21', '#ff1aff'), (236.5, 'MA(200) 17.36', '#9a3cf0')]
for yy, txt, cc in legend_ma:
    ov.plot([20, 28], [yy, yy], color=cc, lw=2.4)
    ov.text(29, yy, txt, fontsize=7.2, va='center', ha='left', color=cc)

ov.plot([20, 28], [610.5, 610.5], color='black', lw=2.4)
chain(32, 610.5, [('MACD(12,26,9) 1.155', 'black', 'normal'), (', 0.682', '#ff1a1a', 'normal'),
                  (', 0.473', '#5f9cc6', 'normal')])
ov.text(32, 755.5, 'MACD(12,26,9) Hist 0.473', fontsize=7.2, va='center', ha='left')
for k, hh in enumerate([5, 8, 6, 9]):
    ov.plot([20 + 2.2 * k, 20 + 2.2 * k], [760, 760 - hh], color='#2a5f9a', lw=1.6)
ov.plot([20, 28], [900.5, 900.5], color='black', lw=2.4)
chain(32, 900.5, [('Full STO %K(14,3) %D(3) 37.24', 'black', 'normal'), (', 29.17', '#ff1a1a', 'normal')])
chain(18, 1045.5, [('ADX(14) 38.64 ', 'black', 'normal'), ('+DI 35.55 ', '#1e4d2b', 'normal'),
                   ('-DI 11.01', '#c8173f', 'normal')])

fig.savefig('out.png', dpi=100, facecolor='white')
